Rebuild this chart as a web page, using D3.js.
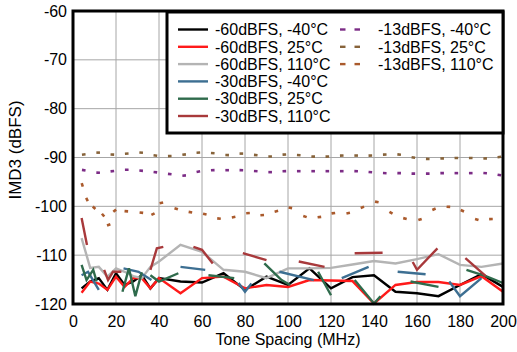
<!DOCTYPE html>
<html><head><meta charset="utf-8">
<script src="https://cdn.jsdelivr.net/npm/d3@7/dist/d3.min.js"></script>
<style>
body{margin:0;background:#fff}
svg{display:block}
text{font-family:Arial,"Liberation Sans",sans-serif;fill:#000}
</style>
</head><body>
<svg id="chart" width="517" height="352"></svg>
<script>
// ---------- data ----------
const xTicks = [0,20,40,60,80,100,120,140,160,180,200];
const yTicks = [-120,-110,-100,-90,-80,-70,-60];

// -60 dBFS series share one tone-spacing grid (MHz)
const x60 = [4,8,12,16,20,24,28,32,36,40,50,60,70,80,90,100,110,120,130,140,150,160,170,180,190,200];
const m60_n40 = [-116.8,-115.4,-114.7,-117.1,-113.7,-116.1,-115.4,-114.1,-116.8,-114.7,-115.4,-115.6,-113.7,-117.1,-114.4,-116.1,-112.7,-116.8,-114.5,-114.1,-117.5,-117.8,-118.4,-116.1,-113.9,-116.5];
const m60_p25 = [-117.7,-115.4,-115.8,-117.1,-114.4,-116.5,-114.7,-114.7,-116.8,-114.7,-117.8,-114.7,-114.4,-116.8,-116.1,-116.5,-115.1,-115.2,-115.3,-119.9,-116.1,-115.5,-115.5,-116.1,-114.3,-117.5];
const m60_p110 = [-106.5,-112.6,-112.4,-114.4,-112.7,-113.4,-114.3,-114.7,-112.4,-111.3,-107.9,-109.3,-113.0,-113.4,-114.7,-112.7,-112.7,-112.6,-111.9,-111.2,-111.7,-110.8,-109.8,-112.0,-112.4,-111.7];

// -30 dBFS series (broken lines, null = gap)
const x30_n40 = [4,7,12,18,23.5,30.5,36.5,43,50,61.5,70,77,80,83,90,96,112,118,125,137.5,145,151,164,170,175,180,190];
const m30_n40 = [-114.1,-113.4,-117.1,null,-112.7,-113.4,-115.1,null,-112.4,-113.0,null,-115.7,-117.5,-115.8,null,-113.4,-115.1,null,-114.7,-112.4,null,-113.4,-113.9,null,-115.4,-118.4,-114.7];
const x30_p25 = [4,6.3,9.4,11,17,23,26,29,32,34,36,40,49,56,63,75,82,89,97,101,108,114,120,125,131,140,143,150,157,170,176,183,192,200];
const m30_p25 = [-112.0,-115.1,-113.0,-115.4,null,-117.5,-112.7,-118.4,-113.5,null,-114.1,-115.4,-113.7,null,-114.1,-114.7,null,-111.7,-115.1,-116.1,null,-113.4,-118.2,null,-115.1,-119.9,-118.4,null,-115.4,-116.5,null,-113.0,-114.3,-115.7];
const x30_p110 = [4,6.5,10,14.5,16.3,18.6,22.5,30,36,39,42,50,56,60,65,72,79,90,98,105,117,124,131,144,150,158,160,169.5,176,182.5,192];
const m30_p110 = [-102.4,-107.9,null,-113.0,-115.1,-113.4,-113.4,null,-113.0,-108.6,-108.3,null,-108.3,-108.9,-111.7,null,-109.6,-111.0,null,-111.3,-112.4,null,-109.6,-109.5,null,-111.4,-113.0,-108.6,null,-110.6,-114.3];

// -13 dBFS series (dashed)
const x13 = [5,11.7,18.3,25,31.7,38.3,45,51.7,58.3,65,71.7,78.3,85,91.7,98.3,105,111.7,118.3,125,131.7,138.3,145,151.7,158.3,165,171.7,178.3,185,191.7,198.3];
const m13_n40 = [-92.6,-93.1,-92.8,-92.5,-92.7,-93.0,-93.4,-93.7,-92.9,-92.6,-92.6,-92.6,-92.8,-93.0,-92.8,-92.8,-92.8,-92.8,-92.8,-92.8,-93.0,-93.2,-93.2,-93.3,-93.3,-93.2,-93.2,-93.2,-93.2,-93.6];
const m13_p25 = [-89.4,-89.0,-89.4,-89.2,-89.0,-89.6,-89.7,-89.4,-89.0,-89.1,-89.5,-89.2,-89.5,-89.8,-89.4,-89.5,-89.8,-89.8,-89.6,-89.6,-89.6,-89.4,-89.4,-90.0,-90.3,-90.2,-90.1,-90.1,-90.2,-89.9];
const x13_hot = [4.3,6.5,9.8,14.0,16.6,19.4,24.8,31.8,37.2,41.1,48.0,54.6,61.3,67.9,74.7,81.4,88.0,94.6,101.1,107.9,114.6,121.1,128.0,134.6,141.3,147.9,154.4,161.4,167.9,174.6,181.1,187.8,194.4];
const m13_p110 = [-95.6,-98.6,-100.3,-101.8,-103.8,-100.9,-101.0,-101.3,-101.6,-99.3,-100.5,-101.2,-101.6,-102.5,-102.2,-101.4,-101.8,-101.0,-100.3,-102.1,-102.2,-101.4,-101.4,-100.2,-99.1,-101.3,-102.5,-102.7,-100.6,-100.1,-100.9,-102.7,-102.6];

const solidSeries = [
  {name:"-60dBFS, -40°C", xs:x60, ys:m60_n40, color:"#000000"},
  {name:"-60dBFS, 25°C", xs:x60, ys:m60_p25, color:"#ff1a1a"},
  {name:"-60dBFS, 110°C", xs:x60, ys:m60_p110, color:"#b4b4b4"},
  {name:"-30dBFS, -40°C", xs:x30_n40, ys:m30_n40, color:"#3d6f92"},
  {name:"-30dBFS, 25°C", xs:x30_p25, ys:m30_p25, color:"#2f6b4c"},
  {name:"-30dBFS, 110°C", xs:x30_p110, ys:m30_p110, color:"#a8393b"}
];
const dashSeries = [
  {name:"-13dBFS, -40°C", xs:x13, ys:m13_n40, color:"#7c2c86"},
  {name:"-13dBFS, 25°C", xs:x13, ys:m13_p25, color:"#87633a"},
  {name:"-13dBFS, 110°C", xs:x13_hot, ys:m13_p110, color:"#aa5a2c"}
];

// ---------- drawing ----------
const svg = d3.select("#chart");
svg.append("rect").attr("width",517).attr("height",352).attr("fill","#fff");
const L=73, R=503, T=11, B=304;
const x = d3.scaleLinear().domain([0,200]).range([L,R]);
const y = d3.scaleLinear().domain([-120,-60]).range([B,T]);

// grid
svg.append("g").selectAll("line").data(xTicks).join("line")
  .attr("x1",d=>x(d)).attr("x2",d=>x(d)).attr("y1",T).attr("y2",B)
  .attr("stroke","#a6a6a6").attr("stroke-width",1);
svg.append("g").selectAll("line").data(yTicks).join("line")
  .attr("x1",L).attr("x2",R).attr("y1",d=>y(d)).attr("y2",d=>y(d))
  .attr("stroke","#a6a6a6").attr("stroke-width",1);

// dashed series: short dash at each point, oriented along the local direction
dashSeries.forEach(s=>{
  const pts = s.xs.map((v,i)=>[x(v), y(s.ys[i])]);
  const g = svg.append("g");
  pts.forEach((p,i)=>{
    const a = pts[Math.max(0,i-1)], b = pts[Math.min(pts.length-1,i+1)];
    let dx=b[0]-a[0], dy=b[1]-a[1]; const len=Math.hypot(dx,dy)||1;
    dx/=len; dy/=len; const h=1.8;
    g.append("line").attr("x1",p[0]-dx*h).attr("y1",p[1]-dy*h)
      .attr("x2",p[0]+dx*h).attr("y2",p[1]+dy*h)
      .attr("stroke",s.color).attr("stroke-width",2.6);
  });
});

// solid series
const line = d3.line().defined(d=>d[1]!==null).x(d=>x(d[0])).y(d=>y(d[1]));
solidSeries.forEach(s=>{
  svg.append("path").datum(s.xs.map((v,i)=>[v,s.ys[i]]))
    .attr("d",line).attr("fill","none").attr("stroke",s.color)
    .attr("stroke-width",2.4).attr("stroke-linejoin","miter");
});

// axes (labels only), plain hyphen-minus as in the reference
const fmt = d => String(d);
const ax = svg.append("g").attr("transform",`translate(0,${B})`)
  .call(d3.axisBottom(x).tickValues(xTicks).tickSize(0).tickPadding(12).tickFormat(fmt));
const ay = svg.append("g").attr("transform",`translate(${L},0)`)
  .call(d3.axisLeft(y).tickValues(yTicks).tickSize(0).tickPadding(6).tickFormat(fmt));
[ax,ay].forEach(a=>{
  a.select(".domain").remove();
  a.selectAll("text").attr("font-size",16).attr("font-family","Arial, 'Liberation Sans', sans-serif").attr("fill","#000");
});

// titles
svg.append("text").attr("x",(L+R)/2).attr("y",345).attr("text-anchor","middle")
  .attr("font-size",16).text("Tone Spacing (MHz)");
svg.append("text").attr("transform","translate(21,150) rotate(-90)").attr("text-anchor","middle")
  .attr("font-size",17).text("IMD3 (dBFS)");

// frame
svg.append("rect").attr("x",L).attr("y",T).attr("width",R-L).attr("height",B-T)
  .attr("fill","none").attr("stroke","#000").attr("stroke-width",3);

// legend
const lg = svg.append("g");
lg.append("rect").attr("x",167).attr("y",12).attr("width",336).attr("height",121)
  .attr("fill","#fff").attr("stroke","#000").attr("stroke-width",3);
const rowY = i => 29.5 + i*17.3;
solidSeries.forEach((s,i)=>{
  lg.append("line").attr("x1",178).attr("x2",208).attr("y1",rowY(i)).attr("y2",rowY(i))
    .attr("stroke",s.color).attr("stroke-width",2.4);
  lg.append("text").attr("x",215).attr("y",rowY(i)).attr("dy","0.36em")
    .attr("font-size",16).text(s.name);
});
dashSeries.forEach((s,i)=>{
  [[340,345.5],[354.5,360]].forEach(([a,b])=>{
    lg.append("line").attr("x1",a).attr("x2",b).attr("y1",rowY(i)).attr("y2",rowY(i))
      .attr("stroke",s.color).attr("stroke-width",2.4);
  });
  lg.append("text").attr("x",378).attr("y",rowY(i)).attr("dy","0.36em")
    .attr("font-size",16).text(s.name);
});
</script>
</body></html>
